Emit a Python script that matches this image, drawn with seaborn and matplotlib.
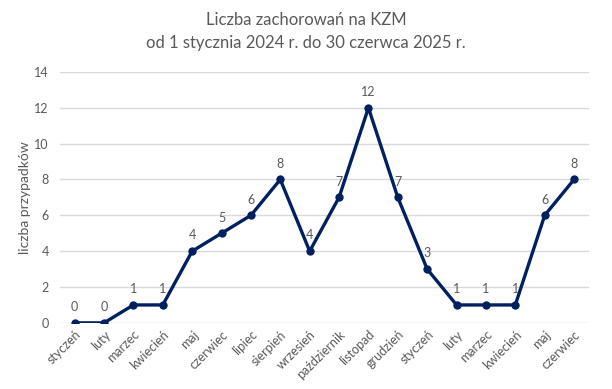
import numpy as np
import pandas as pd
import matplotlib
matplotlib.use('Agg')
import matplotlib.pyplot as plt
import seaborn as sns

months = ['styczeń', 'luty', 'marzec', 'kwiecień', 'maj', 'czerwiec', 'lipiec',
          'sierpień', 'wrzesień', 'październik', 'listopad', 'grudzień',
          'styczeń', 'luty', 'marzec', 'kwiecień', 'maj', 'czerwiec']
cases = [0, 0, 1, 1, 4, 5, 6, 8, 4, 7, 12, 7, 3, 1, 1, 1, 6, 8]

df = pd.DataFrame({'idx': np.arange(len(months)), 'cases': cases})

sns.set_style('white')
plt.rcParams['font.family'] = ['Lato', 'DejaVu Sans']
grey = '#595959'
navy = '#002060'

fig = plt.figure(figsize=(6.12, 3.89), dpi=100)
ax = fig.add_axes([0.098, 0.170, 0.864, 0.645])

sns.lineplot(data=df, x='idx', y='cases', ax=ax, color=navy, linewidth=2.4,
             marker='o', markersize=6, markeredgewidth=0, zorder=3)

for i, v in enumerate(cases):
    ax.annotate(str(v), (i, v), xytext=(0, 7), textcoords='offset points',
                ha='center', va='bottom', fontsize=9, color=grey)

ax.set_xlim(-0.5, len(months) - 0.5)
ax.set_ylim(0, 14)
ax.set_yticks(range(0, 15, 2))
ax.set_xticks(range(len(months)))
ax.set_xticklabels(months, rotation=45, ha='right', rotation_mode='anchor',
                   fontsize=9, color=grey)
ax.tick_params(axis='y', labelsize=9, labelcolor=grey, length=0, pad=8)
ax.tick_params(axis='x', length=0, pad=4)
ax.grid(axis='y', color='#d9d9d9', linewidth=1)
ax.set_axisbelow(True)
for s in ax.spines.values():
    s.set_visible(False)
ax.set_xlabel('')
ax.set_ylabel('liczba przypadków', fontsize=10, color=grey, labelpad=2)

fig.suptitle('Liczba zachorowań na KZM\nod 1 stycznia 2024 r. do 30 czerwca 2025 r.',
             fontsize=12, color=grey, y=0.97, linespacing=1.55)

fig.savefig('out.png', dpi=100)
